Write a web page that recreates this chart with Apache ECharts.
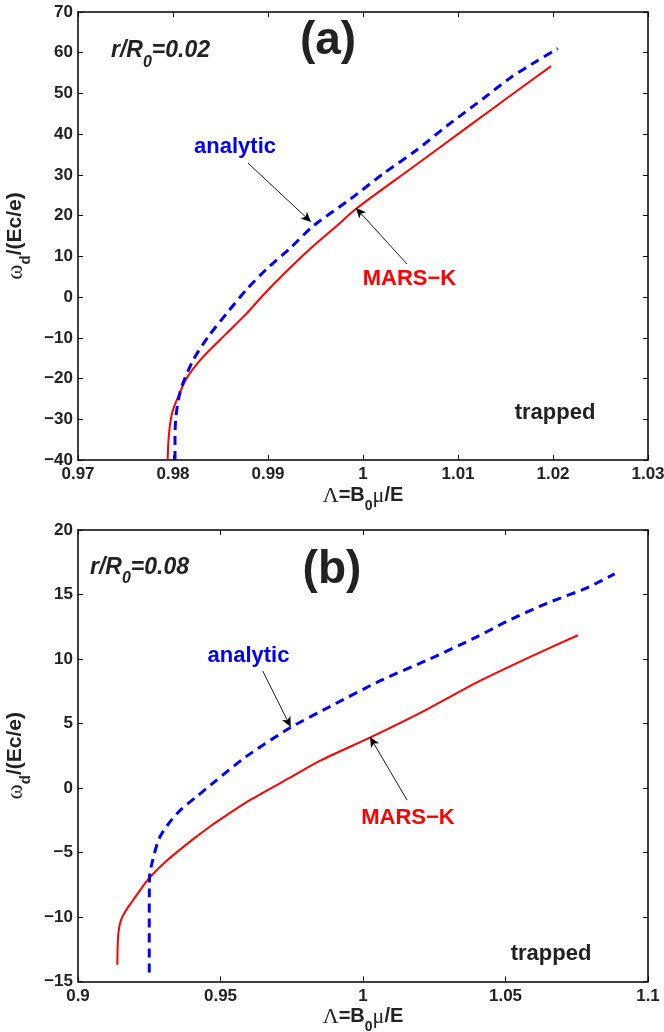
<!DOCTYPE html>
<html><head><meta charset="utf-8">
<script src="https://cdn.jsdelivr.net/npm/echarts@6/dist/echarts.min.js"></script>
<style>html,body{margin:0;padding:0;background:#fff}#c{width:664px;height:1032px}</style>
</head><body><div id="c"></div>
<script>
// ---------- data ----------
const xRangeA = {min: 0.97, max: 1.03, step: 0.01};
const yRangeA = {min: -40, max: 70, step: 10};
const xRangeB = {min: 0.9, max: 1.1, step: 0.05};
const yRangeB = {min: -15, max: 20, step: 5};

const xTicksA = ['0.97', '0.98', '0.99', '1', '1.01', '1.02', '1.03'];
const yTicksA = ['\u221240', '\u221230', '\u221220', '\u221210', '0', '10', '20', '30', '40', '50', '60', '70'];
const xTicksB = ['0.9', '0.95', '1', '1.05', '1.1'];
const yTicksB = ['\u221215', '\u221210', '\u22125', '0', '5', '10', '15', '20'];

// panel (a) r/R0 = 0.02
const marsA = [
  [0.97944, -40], [0.97950, -36], [0.97965, -32], [0.97990, -28.5], [0.98039, -25.3],
  [0.98144, -19.9], [0.98319, -14.6], [0.98565, -8.9], [0.98776, -4.0], [0.98950, 0.5],
  [0.99150, 5.3], [0.99442, 11.8], [0.99700, 17.0], [0.99934, 21.8], [1.00495, 31.4],
  [1.01092, 41.6], [1.01600, 50.3], [1.01980, 56.7]
];
const analyticA = [
  [0.98021, -40], [0.98021, -34], [0.98028, -30.2], [0.98050, -26.1], [0.98091, -22],
  [0.98214, -15.4], [0.98372, -9.7], [0.98565, -4.0], [0.98776, 1.9], [0.98986, 6.9],
  [0.99232, 12.0], [0.99477, 17.46], [0.99863, 24.0], [1.00214, 30.3], [1.00565, 36.1],
  [1.00881, 42.0], [1.01280, 49.0], [1.01560, 54.0], [1.01840, 58.1], [1.02050, 61.0]
];
// panel (b) r/R0 = 0.08
const marsB = [
  [0.9138, -13.7], [0.9139, -12.5], [0.9142, -11.2], [0.9150, -10.3], [0.9168, -9.5],
  [0.9193, -8.7], [0.9225, -7.7], [0.9253, -6.9], [0.9313, -5.6], [0.9402, -4.0],
  [0.9462, -3.0], [0.9506, -2.33], [0.9610, -0.85], [0.9744, 0.8], [0.9848, 2.1],
  [1.0024, 3.9], [1.0199, 5.8], [1.0410, 8.3], [1.0600, 10.3], [1.0754, 11.84]
];
const analyticB = [
  [0.9250, -14.3], [0.9250, -11], [0.9251, -6.9], [0.9262, -5.6], [0.9285, -3.9],
  [0.9320, -2.7], [0.9360, -1.7], [0.9420, -0.6], [0.9480, 0.5], [0.9591, 2.45],
  [0.9743, 4.65], [0.9883, 6.3], [1.0059, 8.3], [1.0234, 10.0], [1.0398, 11.7],
  [1.0503, 12.9], [1.0643, 14.3], [1.0784, 15.5], [1.0883, 16.6]
];

// arrows (data coordinates): [from, to]
const arrowsA = [[[0.98789, 32.92], [0.99453, 18.44]], [[1.00463, 8.12], [0.99926, 21.87]]];
const arrowsB = [[[0.96481, 9.07], [0.97463, 4.73]], [[1.01544, -0.93], [1.00246, 3.95]]];

// ---------- styling / layout ----------
const SANS = 'Liberation Sans, Arial, Helvetica, sans-serif';
const SERIF = 'Liberation Serif, DejaVu Serif, serif';
const INK = '#222';

function fmt(range, labels) {
  return v => { const i = Math.round((v - range.min) / range.step); return labels[i] !== undefined ? labels[i] : ''; };
}
function nameRich(size) {
  return {
    sym: {fontFamily: SERIF, fontSize: size + 2, color: INK, lineHeight: size + 4, verticalAlign: 'top'},
    b: {fontFamily: SANS, fontWeight: 'bold', fontSize: size, color: INK, lineHeight: size + 4, verticalAlign: 'top'},
    sub: {fontFamily: SANS, fontWeight: 'bold', fontSize: Math.round(size * 0.72), color: INK,
      lineHeight: Math.round(size * 0.78), padding: [Math.round(size * 0.68), 0, 0, 0], verticalAlign: 'top'}
  };
}
function xAxisCfg(gi, pos, range, labels) {
  const main = pos === 'bottom';
  return {
    type: 'value', gridIndex: gi, position: pos, min: range.min, max: range.max, interval: range.step,
    axisLine: {show: true, onZero: false, lineStyle: {color: '#000', width: 1.5}},
    axisTick: {show: true, inside: true, length: 5, lineStyle: {color: '#000', width: 1}},
    axisLabel: {show: main, margin: 6, color: INK, fontFamily: SANS, fontWeight: 'bold', fontSize: 17,
      formatter: fmt(range, labels), showMinLabel: true, showMaxLabel: true, hideOverlap: false},
    splitLine: {show: false},
    name: main ? '{sym|\u039B}{b|=B}{sub|0}{sym|\u03BC}{b|/E}' : '',
    nameLocation: 'middle', nameGap: 25,
    nameTextStyle: {rich: nameRich(20)}
  };
}
function yAxisCfg(gi, pos, range, labels) {
  const main = pos === 'left';
  return {
    type: 'value', gridIndex: gi, position: pos, min: range.min, max: range.max, interval: range.step,
    axisLine: {show: true, onZero: false, lineStyle: {color: '#000', width: 1.5}},
    axisTick: {show: true, inside: true, length: 5, lineStyle: {color: '#000', width: 1}},
    axisLabel: {show: main, margin: 5, color: INK, fontFamily: SANS, fontWeight: 'bold', fontSize: 17,
      formatter: fmt(range, labels), showMinLabel: true, showMaxLabel: true, hideOverlap: false},
    splitLine: {show: false},
    name: main ? '{sym|\u03C9}{sub|d}{b|/(Ec/e)}' : '',
    nameLocation: 'middle', nameGap: 42, nameRotate: 90,
    nameTextStyle: {rich: nameRich(21)}
  };
}
function arrowLine(list) {
  return {
    silent: true, symbol: ['none', 'arrow'], symbolSize: [7, 10], animation: false,
    label: {show: false}, emphasis: {disabled: true},
    lineStyle: {color: '#000', width: 0.9, type: 'solid'},
    data: list.map(a => [{coord: a[0]}, {coord: a[1]}])
  };
}
function redSeries(ax, data, arrows) {
  return {type: 'line', xAxisIndex: ax, yAxisIndex: ax, data: data, showSymbol: false, symbol: 'none',
    smooth: 0.25, lineStyle: {color: '#ff0000', width: 2}, z: 3, markLine: arrowLine(arrows)};
}
function blueSeries(ax, data) {
  return {type: 'line', xAxisIndex: ax, yAxisIndex: ax, data: data, showSymbol: false, symbol: 'none',
    smooth: 0.25, lineStyle: {color: '#0000ff', width: 3, type: [9, 6]}, z: 4};
}

const chart = echarts.init(document.getElementById('c'), null, {renderer: 'canvas'});
chart.setOption({
  animation: false,
  backgroundColor: '#fff',
  grid: [
    {left: 78, right: 16, top: 12, height: 448, containLabel: false, outerBoundsMode: 'none'},
    {left: 78, right: 16, top: 530, height: 451.5, containLabel: false, outerBoundsMode: 'none'}
  ],
  xAxis: [
    xAxisCfg(0, 'bottom', xRangeA, xTicksA), xAxisCfg(0, 'top', xRangeA, xTicksA),
    xAxisCfg(1, 'bottom', xRangeB, xTicksB), xAxisCfg(1, 'top', xRangeB, xTicksB)
  ],
  yAxis: [
    yAxisCfg(0, 'left', yRangeA, yTicksA), yAxisCfg(0, 'right', yRangeA, yTicksA),
    yAxisCfg(1, 'left', yRangeB, yTicksB), yAxisCfg(1, 'right', yRangeB, yTicksB)
  ],
  series: [
    redSeries(0, marsA, arrowsA), blueSeries(0, analyticA),
    redSeries(2, marsB, arrowsB), blueSeries(2, analyticB)
  ]
});

// ---------- text annotations (anchored in data coordinates) ----------
const mainI = {fontFamily: SANS, fontWeight: 'bold', fontStyle: 'italic', fontSize: 23, fill: INK, lineHeight: 26, verticalAlign: 'top'};
const subI = {fontFamily: SANS, fontWeight: 'bold', fontStyle: 'italic', fontSize: 16, fill: INK, lineHeight: 16, padding: [15, 0, 0, 0], verticalAlign: 'top'};
const annotations = [
  {ax: 0, at: [0.99632, 62.9], text: '(a)', size: 46, color: INK},
  {ax: 0, at: [0.97347, 60.06], rich: ['r/R', '0', '=0.02']},
  {ax: 0, at: [0.98653, 36.85], text: 'analytic', size: 22, color: '#0000ff'},
  {ax: 0, at: [1.00489, 4.44], text: 'MARS\u2212K', size: 22, color: '#ff0000'},
  {ax: 0, at: [1.02021, -28.46], text: 'trapped', size: 22, color: INK},
  {ax: 2, at: [0.98912, 16.9], text: '(b)', size: 46, color: INK},
  {ax: 2, at: [0.90421, 16.98], rich: ['r/R', '0', '=0.08']},
  {ax: 2, at: [0.95982, 10.23], text: 'analytic', size: 22, color: '#0000ff'},
  {ax: 2, at: [1.01579, -2.33], text: 'MARS\u2212K', size: 22, color: '#ff0000'},
  {ax: 2, at: [1.06596, -12.87], text: 'trapped', size: 22, color: INK}
];
const graphics = annotations.map(a => {
  const p = chart.convertToPixel({xAxisIndex: a.ax, yAxisIndex: a.ax}, a.at);
  if (a.rich) {
    return {type: 'text', x: p[0], y: p[1] - 13, silent: true, z: 10,
      style: {text: '{i|' + a.rich[0] + '}{s|' + a.rich[1] + '}{i|' + a.rich[2] + '}', align: 'left', verticalAlign: 'top',
        rich: {i: mainI, s: subI}}};
  }
  return {type: 'text', x: p[0], y: p[1], silent: true, z: 10,
    style: {text: a.text, fill: a.color, fontFamily: SANS, fontWeight: 'bold', fontSize: a.size,
      align: 'center', verticalAlign: 'middle'}};
});
chart.setOption({graphic: graphics});
</script></body></html>
